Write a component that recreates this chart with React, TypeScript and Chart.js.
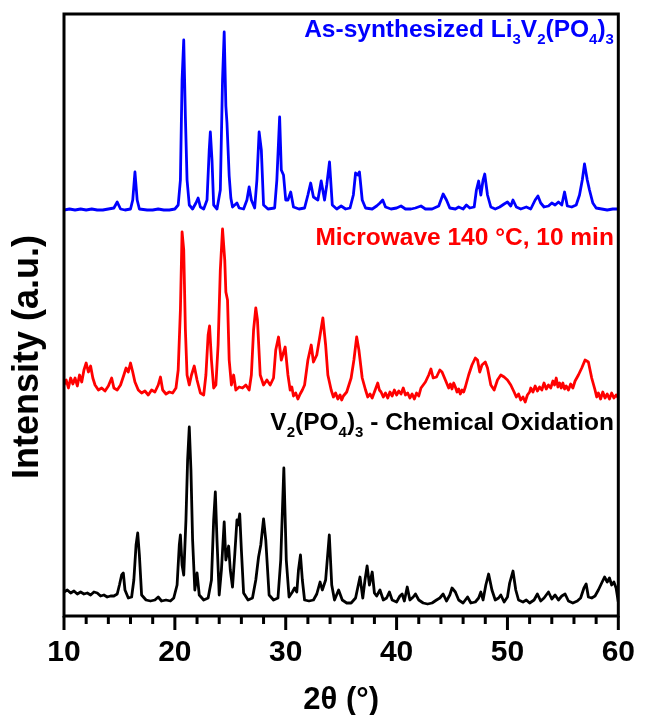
import React, { useEffect, useRef } from "react";
import { Chart, registerables } from "chart.js";

Chart.register(...registerables);

const X_MIN = 10;
const X_MAX = 60;
const Y_MIN = 0;
const Y_MAX = 602;
const X_TICK_LABELS = [10, 20, 30, 40, 50, 60];
const X_MINOR_STEP = 2;

// 2θ (deg), intensity (a.u., stacked offsets included)
const asSynthesized: [number, number][] = [
  [10.0,406],[10.5,407],[11.0,406],[11.5,407],[12.0,406],[12.5,407],[13.0,406],[13.5,406],[14.0,407],[14.5,408],[14.8,414],[15.1,407],[15.5,406],[16.0,407],[16.2,416],[16.4,444],[16.6,416],[16.8,407],[17.5,406],[18.0,406],[18.5,407],[19.0,406],[19.5,406],[20.0,407],[20.3,411],[20.5,436],[20.65,536],[20.8,576],[20.95,499],[21.1,436],[21.3,411],[21.6,407],[21.9,413],[22.1,418],[22.3,409],[22.6,407],[22.9,416],[23.1,466],[23.2,484],[23.35,456],[23.5,411],[23.8,407],[24.1,426],[24.3,536],[24.45,584],[24.6,510],[24.7,493],[24.9,440],[25.05,418],[25.2,409],[25.4,411],[25.6,413],[25.8,408],[26.2,407],[26.5,416],[26.7,429],[26.9,416],[27.2,408],[27.4,436],[27.6,484],[27.8,466],[28.0,411],[28.4,407],[29.0,408],[29.2,436],[29.45,499],[29.6,446],[29.8,441],[30.0,416],[30.2,416],[30.45,424],[30.7,409],[31.2,407],[31.7,408],[32.0,421],[32.25,433],[32.5,419],[32.9,416],[33.2,435],[33.5,416],[33.7,431],[33.95,454],[34.2,411],[34.6,407],[35.0,410],[35.4,407],[35.8,408],[36.1,421],[36.3,443],[36.5,441],[36.65,444],[36.9,416],[37.2,408],[37.8,407],[38.2,410],[38.5,413],[38.75,416],[39.0,409],[39.5,407],[40.0,408],[40.4,410],[40.8,407],[41.3,407],[41.7,408],[42.2,410],[42.6,407],[43.2,407],[43.8,410],[44.2,422],[44.5,416],[44.8,408],[45.3,407],[45.6,409],[46.0,407],[46.3,411],[46.6,408],[47.0,409],[47.2,426],[47.4,435],[47.6,421],[47.8,436],[47.95,442],[48.2,421],[48.5,409],[48.9,407],[49.3,409],[49.7,412],[50.0,414],[50.3,410],[50.5,416],[50.8,409],[51.2,407],[51.7,409],[52.1,407],[52.5,416],[52.75,420],[53.0,413],[53.3,409],[53.7,410],[54.0,413],[54.3,411],[54.6,414],[54.9,411],[55.15,424],[55.4,410],[55.8,409],[56.2,411],[56.5,421],[56.75,436],[56.95,452],[57.2,436],[57.4,426],[57.7,413],[58.0,408],[58.5,407],[59.0,406],[59.5,407],[60.0,407]
];

const microwave: [number, number][] = [
  [10.0,231],[10.2,236],[10.4,228],[10.6,238],[10.8,232],[11.0,238],[11.2,230],[11.4,241],[11.6,234],[11.8,246],[12.0,253],[12.2,244],[12.4,250],[12.6,238],[12.8,231],[13.1,226],[13.4,228],[13.7,225],[14.0,230],[14.3,238],[14.5,228],[14.8,226],[15.1,231],[15.4,241],[15.6,248],[15.8,244],[16.0,253],[16.2,244],[16.4,234],[16.7,226],[17.0,223],[17.3,225],[17.6,221],[17.9,226],[18.2,224],[18.5,231],[18.7,239],[18.9,226],[19.2,222],[19.5,224],[19.8,223],[20.1,228],[20.3,246],[20.5,306],[20.65,384],[20.8,366],[20.95,286],[21.1,241],[21.3,231],[21.5,241],[21.75,250],[22.0,236],[22.3,223],[22.6,221],[22.8,241],[23.0,281],[23.13,290],[23.3,256],[23.5,228],[23.7,231],[23.9,271],[24.1,346],[24.3,387],[24.5,356],[24.6,324],[24.75,316],[24.9,256],[25.1,231],[25.3,241],[25.5,226],[25.8,229],[26.1,228],[26.4,231],[26.7,226],[26.9,241],[27.1,286],[27.3,308],[27.45,296],[27.7,241],[28.0,231],[28.3,236],[28.6,231],[28.9,238],[29.1,266],[29.35,279],[29.6,256],[29.95,269],[30.2,241],[30.4,226],[30.55,229],[30.7,220],[30.9,223],[31.1,217],[31.3,222],[31.5,226],[31.7,231],[32.0,256],[32.3,271],[32.5,254],[32.8,261],[33.1,281],[33.35,298],[33.6,271],[33.8,241],[34.1,226],[34.3,219],[34.5,223],[34.7,217],[34.9,221],[35.05,216],[35.2,220],[35.5,224],[35.9,238],[36.15,256],[36.4,279],[36.6,266],[36.9,238],[37.2,226],[37.4,219],[37.6,222],[37.8,218],[38.0,224],[38.3,233],[38.45,226],[38.6,224],[38.8,219],[39.0,223],[39.2,218],[39.4,224],[39.6,220],[39.8,226],[40.0,221],[40.2,225],[40.4,222],[40.6,228],[40.8,221],[41.0,223],[41.2,218],[41.4,222],[41.6,217],[41.8,223],[42.0,220],[42.2,228],[42.6,234],[42.9,241],[43.1,247],[43.3,238],[43.6,239],[43.9,246],[44.1,244],[44.4,236],[44.7,228],[44.85,232],[45.0,227],[45.15,233],[45.3,229],[45.45,224],[45.6,227],[45.75,222],[45.9,226],[46.05,224],[46.2,229],[46.5,241],[46.8,251],[47.1,258],[47.3,256],[47.5,244],[47.7,251],[48.0,254],[48.2,248],[48.5,231],[48.8,226],[49.1,236],[49.4,241],[49.7,239],[50.0,236],[50.3,231],[50.6,224],[50.8,219],[51.0,222],[51.2,216],[51.4,219],[51.6,214],[51.8,221],[52.0,224],[52.1,228],[52.3,224],[52.5,230],[52.7,225],[52.9,229],[53.1,226],[53.3,233],[53.5,227],[53.7,231],[53.9,228],[54.1,235],[54.25,231],[54.4,238],[54.55,229],[54.7,233],[54.85,228],[55.0,233],[55.15,227],[55.3,230],[55.5,226],[55.7,232],[55.9,228],[56.1,235],[56.4,241],[56.7,248],[57.0,256],[57.3,254],[57.6,238],[57.9,226],[58.05,219],[58.2,223],[58.4,217],[58.6,224],[58.8,218],[59.0,222],[59.2,217],[59.4,223],[59.6,218],[59.8,221],[60.0,218]
];

const chemicalOxidation: [number, number][] = [
  [10.0,24],[10.3,26],[10.6,23],[10.9,25],[11.2,22],[11.5,24],[11.8,22],[12.1,23],[12.4,21],[12.7,24],[13.0,23],[13.3,20],[13.6,21],[13.9,19],[14.2,20],[14.5,20],[14.8,22],[15.0,31],[15.2,41],[15.35,43],[15.5,26],[15.8,18],[16.1,19],[16.3,36],[16.5,71],[16.65,83],[16.8,61],[17.0,21],[17.4,16],[17.8,15],[18.2,16],[18.5,19],[18.8,15],[19.2,16],[19.6,15],[19.9,18],[20.2,31],[20.4,71],[20.5,81],[20.65,51],[20.8,41],[21.0,96],[21.15,156],[21.3,189],[21.45,146],[21.6,76],[21.8,26],[22.0,43],[22.2,21],[22.6,16],[23.0,18],[23.3,36],[23.5,96],[23.65,124],[23.8,76],[24.0,21],[24.2,46],[24.45,94],[24.6,56],[24.85,70],[25.0,46],[25.2,29],[25.4,61],[25.6,96],[25.7,91],[25.85,102],[26.0,66],[26.2,23],[26.6,16],[27.0,18],[27.3,36],[27.55,59],[27.75,71],[28.0,97],[28.2,76],[28.5,21],[28.9,16],[29.3,18],[29.55,56],[29.83,148],[30.05,56],[30.3,19],[30.6,24],[30.8,28],[31.0,24],[31.15,46],[31.33,61],[31.5,36],[31.7,16],[32.1,15],[32.5,16],[32.8,22],[33.1,34],[33.3,26],[33.6,36],[33.93,81],[34.15,31],[34.4,16],[34.77,26],[35.1,16],[35.5,13],[35.9,13],[36.3,18],[36.7,39],[36.95,18],[37.15,36],[37.34,50],[37.55,31],[37.8,44],[38.0,23],[38.2,20],[38.5,26],[38.8,16],[39.1,18],[39.35,24],[39.6,16],[40.0,14],[40.3,20],[40.5,22],[40.7,15],[40.96,29],[41.2,16],[41.5,19],[41.7,22],[42.0,16],[42.4,13],[42.8,12],[43.2,13],[43.6,16],[43.9,18],[44.2,22],[44.5,15],[44.8,21],[45.0,28],[45.3,24],[45.6,16],[46.0,13],[46.4,19],[46.7,13],[47.1,14],[47.4,18],[47.6,24],[47.8,16],[48.05,31],[48.3,42],[48.6,26],[48.9,16],[49.2,18],[49.4,21],[49.7,14],[50.0,19],[50.2,33],[50.5,45],[50.75,26],[51.0,16],[51.4,14],[51.7,16],[52.0,13],[52.4,16],[52.7,22],[53.0,15],[53.3,18],[53.7,24],[54.0,17],[54.3,21],[54.6,16],[54.9,20],[55.2,22],[55.5,15],[55.9,13],[56.3,15],[56.6,18],[56.9,28],[57.1,32],[57.3,19],[57.6,18],[57.9,20],[58.2,26],[58.5,33],[58.76,39],[59.0,34],[59.2,38],[59.4,31],[59.6,34],[59.8,28],[60.0,14]
];

// label text segments: [text, isSubscript]
type Seg = [string, boolean];
const LABEL_AS_SYNTH: Seg[] = [["As-synthesized Li", false], ["3", true], ["V", false], ["2", true], ["(PO", false], ["4", true], [")", false], ["3", true]];
const LABEL_MICROWAVE: Seg[] = [["Microwave 140 \u00B0C, 10 min", false]];
const LABEL_CHEM_OX: Seg[] = [["V", false], ["2", true], ["(PO", false], ["4", true], [")", false], ["3", true], [" - Chemical Oxidation", false]];
// label anchors (right edge 2θ, baseline intensity)
const LABEL_ANCHORS: [number, number][] = [[59.6, 579], [59.6, 371], [59.6, 186]];

const X_TITLE = "2\u03B8 (\u00B0)";
const Y_TITLE = "Intensity (a.u.)";

const FONT = "'Liberation Sans', Arial, Helvetica, sans-serif";

function drawSegs(ctx: CanvasRenderingContext2D, segs: Seg[], rightX: number, baseY: number, size: number, color: string) {
  const sub = Math.round(size * 0.62);
  const widths = segs.map(([t, s]) => {
    ctx.font = `bold ${s ? sub : size}px ${FONT}`;
    return ctx.measureText(t).width;
  });
  let xx = rightX - widths.reduce((a, b) => a + b, 0);
  ctx.fillStyle = color;
  ctx.textAlign = "left";
  ctx.textBaseline = "alphabetic";
  segs.forEach(([t, s], i) => {
    ctx.font = `bold ${s ? sub : size}px ${FONT}`;
    ctx.fillText(t, xx, baseY + (s ? size * 0.3 : 0));
    xx += widths[i];
  });
}

const decorPlugin = {
  id: "decor",
  afterDatasetsDraw(chart: any) {
    const { ctx, chartArea: a, scales } = chart;
    const x = scales.x;
    const y = scales.y;
    ctx.save();
    ctx.strokeStyle = "#000";
    ctx.lineWidth = 3;
    ctx.lineJoin = "miter";
    ctx.strokeRect(a.left, a.top, a.right - a.left, a.bottom - a.top);
    for (let v = X_MIN; v <= X_MAX + 1e-9; v += X_MINOR_STEP) {
      const px = x.getPixelForValue(v);
      const major = X_TICK_LABELS.includes(v);
      ctx.beginPath();
      ctx.moveTo(px, a.bottom);
      ctx.lineTo(px, a.bottom + (major ? 14 : 8));
      ctx.stroke();
    }
    const labels: [Seg[], string][] = [[LABEL_AS_SYNTH, "#0000ff"], [LABEL_MICROWAVE, "#ff0000"], [LABEL_CHEM_OX, "#000000"]];
    labels.forEach(([segs, color], i) => {
      const [lx, ly] = LABEL_ANCHORS[i];
      drawSegs(ctx, segs, x.getPixelForValue(lx), y.getPixelForValue(ly), 24.5, color);
    });
    ctx.translate(28, 357);
    ctx.rotate(-Math.PI / 2);
    ctx.fillStyle = "#000";
    ctx.textAlign = "center";
    ctx.textBaseline = "middle";
    ctx.font = `bold 36px ${FONT}`;
    ctx.fillText(Y_TITLE, 0, 0);
    ctx.restore();
  },
};

export default function App() {
  const ref = useRef<HTMLCanvasElement | null>(null);
  useEffect(() => {
    if (!ref.current) return;
    const mk = (pts: [number, number][], color: string) => ({
      data: pts.map(([px, py]) => ({ x: px, y: py })),
      borderColor: color,
      borderWidth: 2.8,
      borderJoinStyle: "round" as const,
      pointRadius: 0,
      tension: 0,
      fill: false,
    });
    const chart = new Chart(ref.current, {
      type: "line",
      data: {
        datasets: [
          mk(chemicalOxidation, "#000000"),
          mk(microwave, "#ff0000"),
          mk(asSynthesized, "#0000ff"),
        ],
      },
      options: {
        animation: false,
        responsive: false,
        maintainAspectRatio: false,
        layout: { padding: { left: 64, top: 14, right: 18, bottom: 0 } },
        plugins: { legend: { display: false }, tooltip: { enabled: false } },
        scales: {
          x: {
            type: "linear",
            min: X_MIN,
            max: X_MAX,
            afterBuildTicks: (s: any) => {
              s.ticks = X_TICK_LABELS.map((v) => ({ value: v }));
            },
            ticks: {
              color: "#000",
              font: { family: FONT, size: 30, weight: "bold" },
              padding: 19,
              maxRotation: 0,
              autoSkip: false,
            },
            grid: { display: false, drawTicks: false },
            border: { display: false },
            title: {
              display: true,
              text: X_TITLE,
              color: "#000",
              font: { family: FONT, size: 31, weight: "bold" },
              padding: { top: 0, bottom: -4 },
            },
            afterFit: (s: any) => {
              s.height = 99;
            },
          },
          y: { type: "linear", display: false, min: Y_MIN, max: Y_MAX },
        },
      },
      plugins: [decorPlugin],
    } as any);
    return () => chart.destroy();
  }, []);
  return (
    <div style={{ position: "absolute", left: 0, top: 0, width: 654, height: 715, background: "#fff" }}>
      <canvas ref={ref} width={654} height={715} style={{ display: "block", width: 654, height: 715 }} />
    </div>
  );
}
